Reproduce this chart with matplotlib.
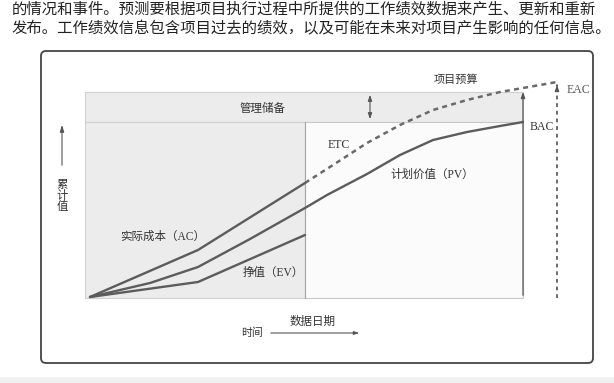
import matplotlib.pyplot as plt
from matplotlib.patches import Rectangle, FancyBboxPatch

plt.rcParams['font.family'] = ['Liberation Serif', 'Noto Sans CJK SC', 'DejaVu Sans']

# time since start / cumulative value (chart units, origin at project start)
ac_time = [0, 108, 215]
ac_value = [0, 47, 114]

ev_time = [0, 108, 215]
ev_value = [0, 15, 62]

pv_time = [0, 60, 108, 160, 215, 237, 277, 310, 343, 377, 410, 433]
pv_value = [0, 14, 30, 58, 89, 102, 123, 142, 157, 165, 171, 175]

etc_time = [215, 243, 277, 310, 343, 377, 410, 433, 467]
etc_value = [114, 132, 154, 172, 187, 197, 205, 209, 215]

data_date = 215
bac_time, bac = 433, 175
eac_time, eac = 467, 215
budget = 205

body_lines = [
    "的情况和事件。预测要根据项目执行过程中所提供的工作绩效数据来产生、更新和重新",
    "发布。工作绩效信息包含项目过去的绩效，以及可能在未来对项目产生影响的任何信息。",
]

line_col = "#5c5c5c"
text_col = "#333333"

fig = plt.figure(figsize=(6.14, 3.83), dpi=100)
ax = fig.add_axes([0, 0, 1, 1])
ax.set_xlim(-90, 524)
ax.set_ylim(-86, 297)
ax.axis("off")

# faint page strip at the bottom
ax.add_patch(Rectangle((-90, -86), 614, 6, facecolor="#f1f1f1", edgecolor="none"))

# body text above the figure
for i, line in enumerate(body_lines):
    ax.text(-78, 288 - i * 20, line, fontsize=11.1, color="#222222", va="center", ha="left")

# outer frame
ax.add_patch(FancyBboxPatch((-49, -66), 552, 312, boxstyle="round,pad=0,rounding_size=5",
                            facecolor="white", edgecolor="#444444", lw=1.3))

# shaded areas: management reserve band and elapsed period
ax.add_patch(Rectangle((-5, bac), bac_time + 5, budget - bac, facecolor="#ececec",
                       edgecolor="#d0d0d0", lw=0.8))
ax.add_patch(Rectangle((-5, -1), data_date + 5, bac + 1, facecolor="#ececec",
                       edgecolor="#d0d0d0", lw=0.8))
ax.add_patch(Rectangle((data_date, -1), bac_time - data_date, bac + 1, facecolor="#fbfbfb",
                       edgecolor="#c8c8c8", lw=0.8))
ax.plot([data_date, data_date], [-1, bac], color="#a8a8a8", lw=0.8)

# curves
ax.plot(ac_time, ac_value, color=line_col, lw=1.7, solid_capstyle="round")
ax.plot(pv_time, pv_value, color=line_col, lw=1.7, solid_capstyle="round")
ax.plot(ev_time, ev_value, color=line_col, lw=1.7, solid_capstyle="round")
ax.plot(etc_time, etc_value, color="#6a6a6a", lw=1.8, linestyle=(0, (2.0, 1.7)))

# BAC and EAC markers
ax.annotate("", xy=(bac_time, etc_value[-2] - 1), xytext=(bac_time, -1),
            arrowprops=dict(arrowstyle="-|>,head_length=0.35,head_width=0.12", color="#555555", lw=0.9))
ax.plot([eac_time, eac_time], [-1, eac - 6], color="#444444", lw=1.1, linestyle=(0, (2.5, 2.5)))
ax.annotate("", xy=(eac_time, eac), xytext=(eac_time, eac - 6),
            arrowprops=dict(arrowstyle="-|>,head_length=0.35,head_width=0.12", color="#555555", lw=0.9))

# management reserve double arrow
ax.annotate("", xy=(280, budget), xytext=(280, bac),
            arrowprops=dict(arrowstyle="<|-|>,head_length=0.35,head_width=0.12", color="#555555", lw=0.8))

# axis hints
ax.annotate("", xy=(-28, 175), xytext=(-28, 129),
            arrowprops=dict(arrowstyle="-|>,head_length=0.4,head_width=0.12", color="#555555", lw=0.8))
for k, ch in enumerate("累计值"):
    ax.text(-28, 112 - k * 11, ch, fontsize=8.3, color=text_col, ha="center", va="center")
ax.annotate("", xy=(272, -36), xytext=(178, -36),
            arrowprops=dict(arrowstyle="-|>,head_length=0.3,head_width=0.1", color="#555555", lw=0.8))
ax.text(162, -36, "时间", fontsize=7.8, color=text_col, ha="center", va="center")
ax.text(223, -25, "数据日期", fontsize=8.3, color=text_col, ha="center", va="center")

# labels
ax.text(366, 217, "项目预算", fontsize=8, color=text_col, ha="center", va="center")
ax.text(173, 188, "管理储备", fontsize=8.3, color=text_col, ha="center", va="center")
ax.text(249, 152, "ETC", fontsize=8.5, color=text_col, ha="center", va="center")
ax.text(342, 122, "计划价值（PV）", fontsize=8.3, color=text_col, ha="center", va="center")
ax.text(452, 170, "BAC", fontsize=8.5, color=text_col, ha="center", va="center")
ax.text(488, 207, "EAC", fontsize=8.5, color="#555555", ha="center", va="center")
ax.text(73, 60, "实际成本（AC）", fontsize=8.3, color=text_col, ha="center", va="center")
ax.text(183, 24, "挣值（EV）", fontsize=8.3, color=text_col, ha="center", va="center")

fig.savefig("out.png", dpi=100)
